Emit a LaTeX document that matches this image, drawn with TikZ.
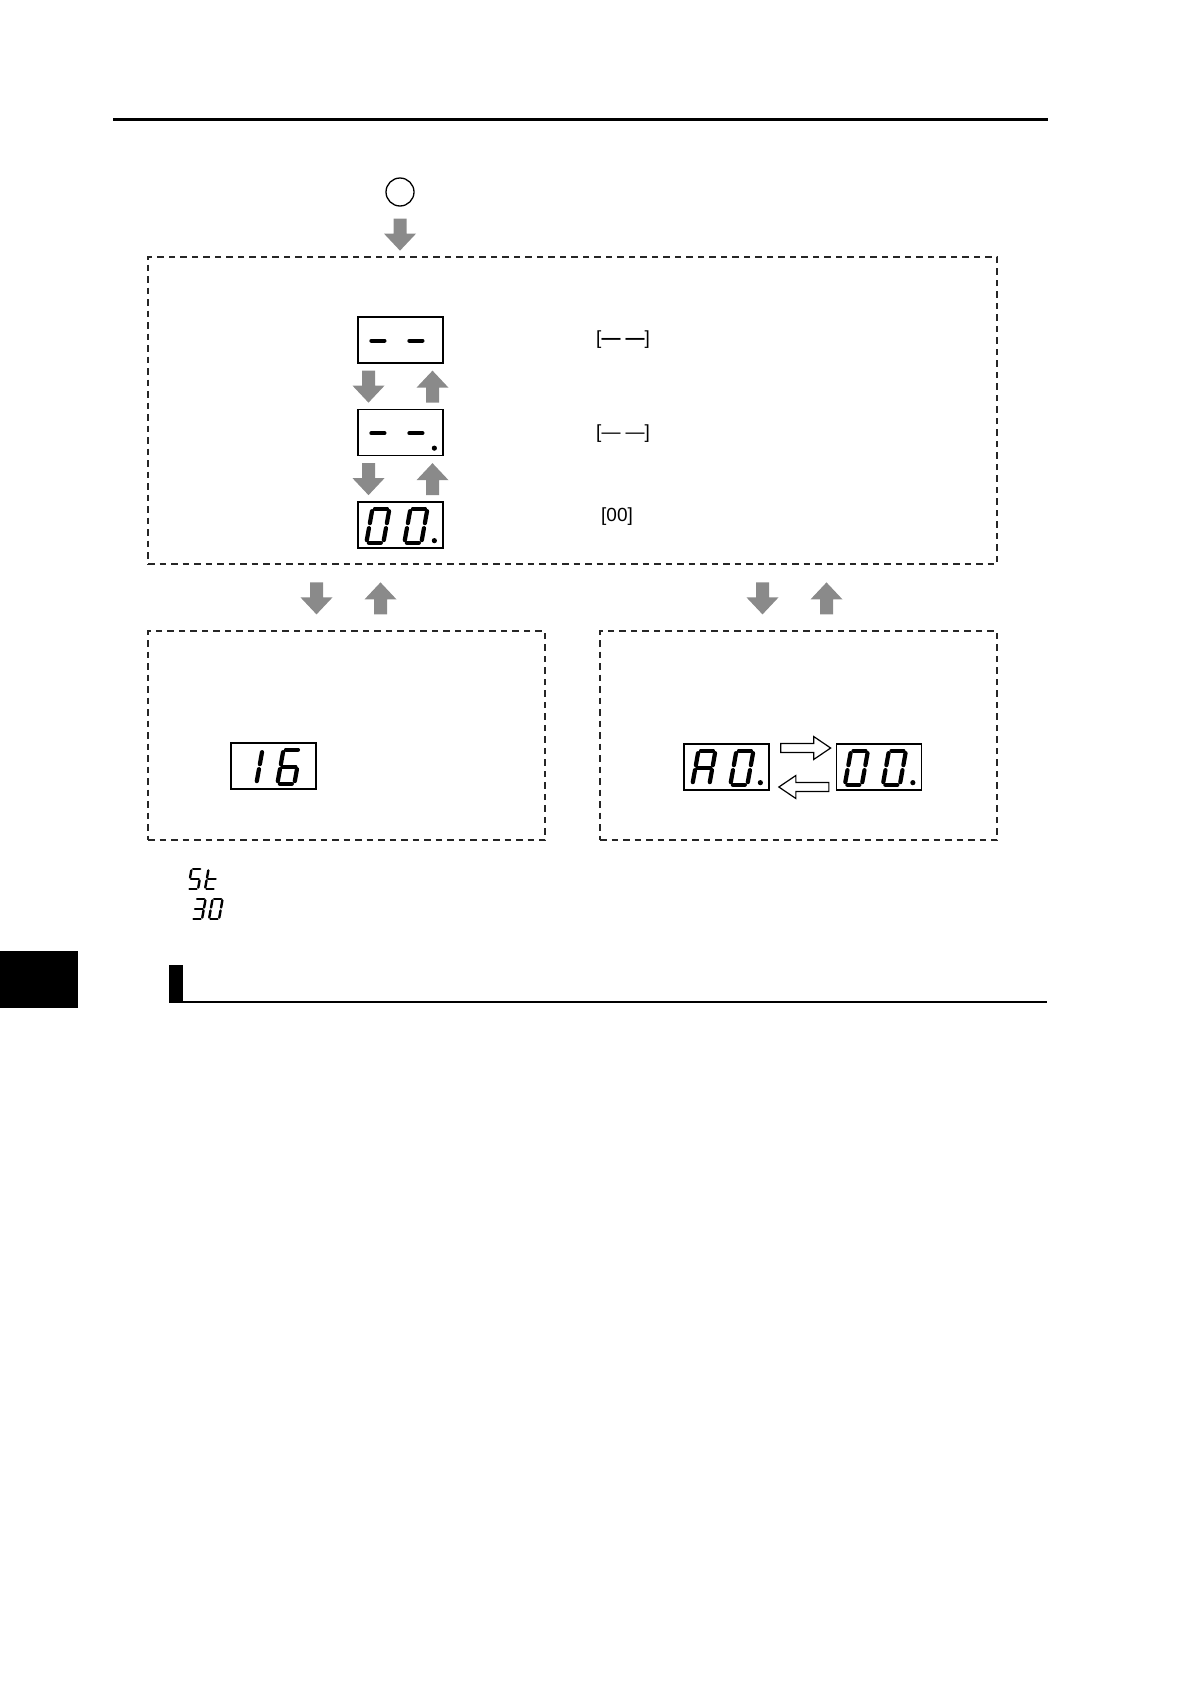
\documentclass[tikz,border=0pt]{standalone}
\usepackage{fontspec}
\setsansfont{Liberation Sans}
\usetikzlibrary{calc}
\definecolor{arrowgray}{RGB}{138,138,138}

\newcommand{\segdigit}[3][]{%
  \begin{scope}[shift={#2}, xslant=0.18, #1]
    \foreach \s in {#3} {\draw[seg] [sg \s];}
  \end{scope}}

\tikzset{
  seg/.style={line width=4.2pt, line cap=round},
  sg a/.style={insert path={(2.5,-34) -- (14.5,-34)}},
  sg b/.style={insert path={(17,-31.5) -- (17,-19.5)}},
  sg c/.style={insert path={(17,-14.5) -- (17,-2.5)}},
  sg d/.style={insert path={(2.5,0) -- (14.5,0)}},
  sg e/.style={insert path={(0,-2.5) -- (0,-14.5)}},
  sg f/.style={insert path={(0,-19.5) -- (0,-31.5)}},
  sg g/.style={insert path={(2,-17) -- (15,-17)}},
  gdown/.pic={\fill[arrowgray] (-6.5,0) -- (6.5,0) -- (6.5,15) -- (16,15) -- (0,32) -- (-16,15) -- (-6.5,15) -- cycle;},
  gup/.pic={\fill[arrowgray] (0,0) -- (16,17) -- (6.5,17) -- (6.5,32) -- (-6.5,32) -- (-6.5,17) -- (-16,17) -- cycle;},
  harrow/.pic={\draw[line width=1.2pt, fill=white, line join=miter] (0,-4.5) -- (33,-4.5) -- (33,-11.5) -- (50,0) -- (33,11.5) -- (33,4.5) -- (0,4.5) -- cycle;}
}

\begin{document}
\begin{tikzpicture}[x=1pt, y=-1pt,
                    display/.style={rectangle, draw, line width=1.3pt, minimum width=85pt, minimum height=46pt, inner sep=0pt},
                    dashbox/.style={rectangle, draw=black!85, line width=1.2pt, dash pattern=on 6.5pt off 5pt, inner sep=0pt},
                    label/.style={font=\sffamily\fontsize{19pt}{21pt}\selectfont, inner sep=0pt}]
  \useasboundingbox (0,0) rectangle (1190,1684);
  \draw[line width=3pt] (113,119) -- (1048,119);

  \node[circle, draw, line width=1.3pt, minimum size=28pt, inner sep=0pt] (start) at (400,192) {};
  \node[dashbox, minimum width=849pt, minimum height=307pt] (main) at (572.5,410.5) {};
  \node[dashbox, minimum width=397pt, minimum height=209pt] (lbox) at (346.5,735.5) {};
  \node[dashbox, minimum width=397pt, minimum height=209pt] (rbox) at (798.5,735.5) {};

  \node[display] (d1) at (400.5,340) {};
  \node[display] (d2) at (400.5,432.5) {};
  \node[display] (d3) at (400.5,525) {};
  \node[display] (d16) at (273.5,766) {};
  \node[display] (dA) at (726.5,767) {};
  \node[display] (d0) at (879,767) {};

  \node[label] (t1) at (623,340) {[\textbf{—\hspace{5pt}—}]};
  \node[label] (t2) at (623,434) {[—\hspace{5pt}—]};
  \node[label] (t3) at (617,517) {[00]};

  \pic at ($(start.south)+(0,12)$) {gdown};
  \pic at ($(d1.south)+(-32,7)$) {gdown};
  \pic at ($(d1.south)+(32,7)$) {gup};
  \pic at ($(d2.south)+(-32,7)$) {gdown};
  \pic at ($(d2.south)+(32,7)$) {gup};
  \pic at ($(lbox.north)+(-30,-48)$) {gdown};
  \pic at ($(lbox.north)+(34,-48)$) {gup};
  \pic at ($(rbox.north)+(-36,-48)$) {gdown};
  \pic at ($(rbox.north)+(28,-48)$) {gup};
  \pic at ($(dA.east)+(11,-19)$) {harrow};
  \pic[rotate=180] at ($(d0.west)+(-7,20)$) {harrow};

  % seven segment digits
  \segdigit{($(d1.south west)+(9,-6)$)}{g}
  \segdigit{($(d1.south west)+(47,-6)$)}{g}
  \segdigit{($(d2.south west)+(9,-6)$)}{g}
  \segdigit{($(d2.south west)+(47,-6)$)}{g}
  \fill ($(d2.south west)+(77,-8)$) circle[radius=2.6pt];
  \segdigit{($(d3.south west)+(9,-6)$)}{a,b,c,d,e,f}
  \segdigit{($(d3.south west)+(47,-6)$)}{a,b,c,d,e,f}
  \fill ($(d3.south west)+(77,-8)$) circle[radius=2.6pt];
  \segdigit{($(d16.south west)+(9,-6)$)}{b,c}
  \segdigit{($(d16.south west)+(47,-6)$)}{a,c,d,e,f,g}
  \segdigit{($(dA.south west)+(9,-6)$)}{a,b,c,e,f,g}
  \segdigit{($(dA.south west)+(47,-6)$)}{a,b,c,d,e,f}
  \fill ($(dA.south west)+(77,-8)$) circle[radius=2.6pt];
  \segdigit{($(d0.south west)+(9,-6)$)}{a,b,c,d,e,f}
  \segdigit{($(d0.south west)+(47,-6)$)}{a,b,c,d,e,f}
  \fill ($(d0.south west)+(77,-8)$) circle[radius=2.6pt];

  \segdigit[scale=0.59, seg/.append style={line width=2.4pt}]{(188,889)}{a,f,g,c,d}
  \segdigit[scale=0.59, seg/.append style={line width=2.4pt}]{(205,889)}{f,e,d,g}
  \segdigit[scale=0.59, seg/.append style={line width=2.4pt}]{(192,919)}{a,b,g,c,d}
  \segdigit[scale=0.59, seg/.append style={line width=2.4pt}]{(209,919)}{a,b,c,d,e,f}

  \fill (0,951) rectangle (78,1008);
  \fill (169,965) rectangle (183,1003);
  \draw[line width=2pt] (169,1002) -- (1047,1002);
\end{tikzpicture}
\end{document}
